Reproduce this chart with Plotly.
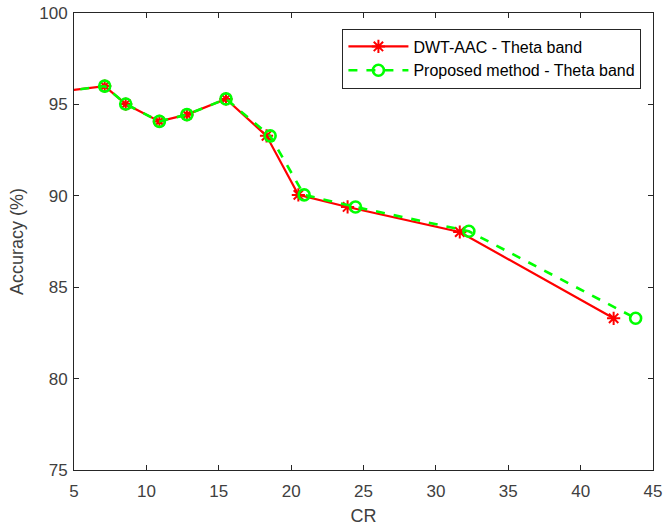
import plotly.graph_objects as go

# Compression ratio (CR) vs. classification accuracy, theta band
cr_dwt = [4.2, 7.12, 8.57, 10.9, 12.8, 15.5, 18.3, 20.5, 23.9, 31.65, 42.28]
acc_dwt = [95.71, 96.0, 95.02, 94.07, 94.44, 95.30, 93.28, 90.05, 89.39, 88.02, 83.3]

cr_prop = [4.2, 7.12, 8.57, 10.9, 12.8, 15.5, 18.55, 20.9, 24.45, 32.28, 43.8]
acc_prop = [95.71, 96.0, 95.02, 94.07, 94.44, 95.30, 93.28, 90.05, 89.39, 88.06, 83.3]

x_ticks = [5, 10, 15, 20, 25, 30, 35, 40, 45]
y_ticks = [75, 80, 85, 90, 95, 100]

font_family = "Liberation Sans, Arial, sans-serif"
axis_color = "#262626"
label_color = "#404040"

fig = go.Figure()
fig.add_trace(go.Scatter(
    x=cr_dwt, y=acc_dwt, mode="lines+markers",
    name="DWT-AAC - Theta band",
    line=dict(color="#FF0000", width=2.2),
    marker=dict(symbol="asterisk-open", size=11, color="#FF0000",
                line=dict(color="#FF0000", width=2)),
))
fig.add_trace(go.Scatter(
    x=cr_prop, y=acc_prop, mode="lines+markers",
    name="Proposed method - Theta band",
    line=dict(color="#00FF00", width=2.6, dash="dash"),
    marker=dict(symbol="circle-open", size=11, color="#00FF00",
                line=dict(color="#00FF00", width=2.6)),
))

axis_common = dict(
    showline=True, mirror="ticks", linecolor=axis_color, linewidth=1,
    ticks="inside", ticklen=5, tickcolor=axis_color, tickwidth=1,
    showgrid=False, zeroline=False, automargin=False,
    tickfont=dict(family=font_family, size=17, color=label_color),
)

fig.update_xaxes(
    range=[5, 45], tickvals=x_ticks, ticklabelstandoff=6,
    title=dict(text="CR", font=dict(family=font_family, size=18, color=label_color), standoff=8),
    **axis_common,
)
fig.update_yaxes(
    range=[75, 100], tickvals=y_ticks, ticklabelstandoff=2,
    title=dict(text="Accuracy (%)", font=dict(family=font_family, size=18, color=label_color), standoff=10),
    **axis_common,
)

fig.update_layout(
    width=664, height=528,
    margin=dict(l=73.5, r=10.5, t=12.5, b=58),
    paper_bgcolor="white", plot_bgcolor="white",
    font=dict(family=font_family, color=axis_color),
    legend=dict(
        x=0.98, y=0.966, xanchor="right", yanchor="top",
        bgcolor="white", bordercolor=axis_color, borderwidth=1,
        font=dict(family=font_family, size=16, color="#000000"),
        itemwidth=60, tracegroupgap=0,
    ),
    showlegend=True,
)

fig.write_html("out.html")
